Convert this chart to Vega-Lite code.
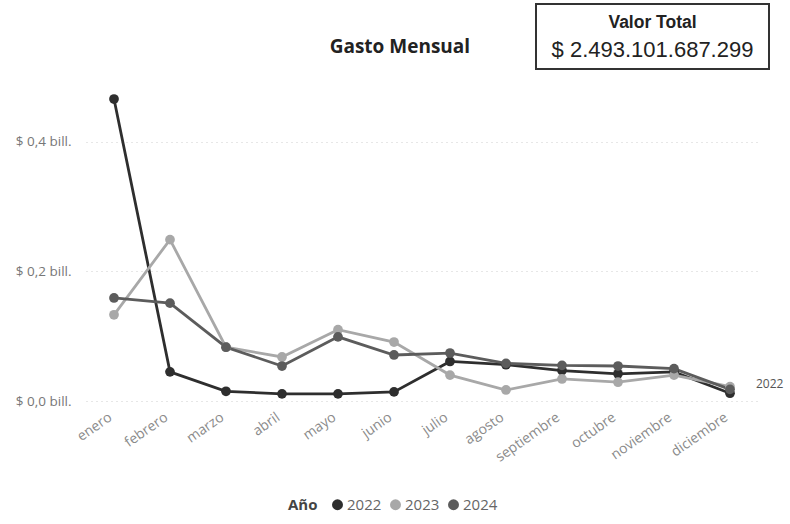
{
  "$schema": "https://vega.github.io/schema/vega-lite/v6.json",
  "padding": {"left": 15, "top": 3, "right": 0, "bottom": 0},
  "background": "white",
  "config": {"font": "Open Sans", "view": {"stroke": null}},
  "datasets": {
    "gasto": [
      {"mes": "enero", "anio": "2022", "gasto": 0.466},
      {"mes": "febrero", "anio": "2022", "gasto": 0.045},
      {"mes": "marzo", "anio": "2022", "gasto": 0.015},
      {"mes": "abril", "anio": "2022", "gasto": 0.011},
      {"mes": "mayo", "anio": "2022", "gasto": 0.011},
      {"mes": "junio", "anio": "2022", "gasto": 0.014},
      {"mes": "julio", "anio": "2022", "gasto": 0.061},
      {"mes": "agosto", "anio": "2022", "gasto": 0.056},
      {"mes": "septiembre", "anio": "2022", "gasto": 0.047},
      {"mes": "octubre", "anio": "2022", "gasto": 0.042},
      {"mes": "noviembre", "anio": "2022", "gasto": 0.045},
      {"mes": "diciembre", "anio": "2022", "gasto": 0.012},
      {"mes": "enero", "anio": "2023", "gasto": 0.133},
      {"mes": "febrero", "anio": "2023", "gasto": 0.249},
      {"mes": "marzo", "anio": "2023", "gasto": 0.083},
      {"mes": "abril", "anio": "2023", "gasto": 0.068},
      {"mes": "mayo", "anio": "2023", "gasto": 0.110},
      {"mes": "junio", "anio": "2023", "gasto": 0.091},
      {"mes": "julio", "anio": "2023", "gasto": 0.040},
      {"mes": "agosto", "anio": "2023", "gasto": 0.017},
      {"mes": "septiembre", "anio": "2023", "gasto": 0.034},
      {"mes": "octubre", "anio": "2023", "gasto": 0.029},
      {"mes": "noviembre", "anio": "2023", "gasto": 0.040},
      {"mes": "diciembre", "anio": "2023", "gasto": 0.022},
      {"mes": "enero", "anio": "2024", "gasto": 0.159},
      {"mes": "febrero", "anio": "2024", "gasto": 0.151},
      {"mes": "marzo", "anio": "2024", "gasto": 0.083},
      {"mes": "abril", "anio": "2024", "gasto": 0.054},
      {"mes": "mayo", "anio": "2024", "gasto": 0.099},
      {"mes": "junio", "anio": "2024", "gasto": 0.071},
      {"mes": "julio", "anio": "2024", "gasto": 0.074},
      {"mes": "agosto", "anio": "2024", "gasto": 0.058},
      {"mes": "septiembre", "anio": "2024", "gasto": 0.055},
      {"mes": "octubre", "anio": "2024", "gasto": 0.054},
      {"mes": "noviembre", "anio": "2024", "gasto": 0.050},
      {"mes": "diciembre", "anio": "2024", "gasto": 0.018}
    ]
  },
  "vconcat": [
    {
      "hconcat": [
        {
          "width": 439,
          "height": 65,
          "data": {"values": [{"titulo": "Gasto Mensual"}]},
          "mark": {"type": "text", "fontWeight": "bold", "fontSize": 19, "color": "#222", "baseline": "middle", "align": "center"},
          "encoding": {
            "text": {"field": "titulo"},
            "x": {"datum": 0.715, "type": "quantitative", "scale": {"domain": [0, 1]}, "axis": null},
            "y": {"datum": 0.34, "type": "quantitative", "scale": {"domain": [0, 1]}, "axis": null}
          }
        },
        {
          "width": 233,
          "height": 65,
          "view": {"stroke": "#333", "strokeWidth": 2},
          "data": {"values": [{"fila": 1, "texto": "Valor Total"}, {"fila": 2, "texto": "$ 2.493.101.687.299"}]},
          "encoding": {
            "y": {"field": "fila", "type": "ordinal", "scale": {"type": "point", "padding": 0.7}, "axis": null},
            "text": {"field": "texto"}
          },
          "layer": [
            {
              "transform": [{"filter": "datum.fila == 1"}],
              "mark": {"type": "text", "font": "Liberation Sans", "fontWeight": "bold", "fontSize": 17.5, "color": "#222", "baseline": "middle"}
            },
            {
              "transform": [{"filter": "datum.fila == 2"}],
              "mark": {"type": "text", "font": "Liberation Sans", "fontSize": 22, "color": "#222", "baseline": "middle"}
            }
          ]
        }
      ],
      "spacing": 10
    },
    {
      "width": 672,
      "height": 324,
      "data": {"name": "gasto"},
      "encoding": {
        "x": {
          "field": "mes",
          "type": "ordinal",
          "sort": ["enero", "febrero", "marzo", "abril", "mayo", "junio", "julio", "agosto", "septiembre", "octubre", "noviembre", "diciembre"],
          "scale": {"type": "point", "padding": 0.5},
          "axis": {"title": null, "labelAngle": -35, "labelAlign": "right", "labelBaseline": "top", "labelColor": "#8a8a8a", "labelFontSize": 14, "ticks": false, "domain": false, "labelPadding": 9, "labelOffset": -8}
        },
        "y": {
          "field": "gasto",
          "type": "quantitative",
          "scale": {"domain": [0, 0.5], "nice": false},
          "axis": {"title": null, "values": [0, 0.2, 0.4], "labelExpr": "'$ ' + replace(format(datum.value, '.1f'), '.', ',') + ' bill.'", "labelColor": "#777", "labelFontSize": 13.5, "ticks": false, "domain": false, "gridColor": "#cfcfcf", "gridDash": [1, 4], "labelPadding": 15}
        },
        "color": {
          "field": "anio",
          "type": "nominal",
          "scale": {"domain": ["2022", "2023", "2024"], "range": ["#2e2e2e", "#a8a8a8", "#5c5c5c"]},
          "legend": {"title": "Año", "orient": "none", "legendX": 202, "legendY": 493, "direction": "horizontal", "titleOrient": "left", "titleFontSize": 15, "titleFontWeight": "bold", "titleColor": "#444", "labelFontSize": 15, "labelColor": "#666", "symbolType": "circle", "symbolSize": 120, "symbolStrokeWidth": 0, "columnPadding": 6, "labelOffset": 2, "titlePadding": 12}
        }
      },
      "layer": [
        {
          "mark": {"type": "line", "strokeWidth": 2.8, "point": {"filled": true, "size": 95}}
        },
        {
          "transform": [{"filter": "datum.anio == '2022' && datum.mes == 'diciembre'"}],
          "mark": {"type": "text", "align": "left", "baseline": "middle", "dx": 26, "dy": -9, "fontSize": 12, "color": "#555"},
          "encoding": {"text": {"field": "anio"}, "color": {"value": "#555"}}
        }
      ]
    }
  ],
  "spacing": 7
}
